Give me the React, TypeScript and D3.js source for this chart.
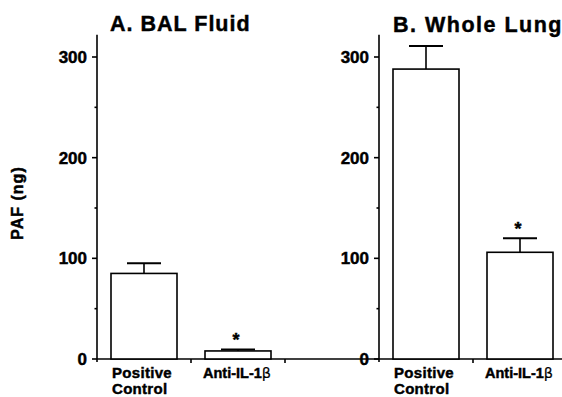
import React from "react";
import * as d3 from "d3";

const categories = ["A-Positive", "A-Anti", "gap", "B-Positive", "B-Anti"];
const barCats = ["A-Positive", "A-Anti", "B-Positive", "B-Anti"];
const means = [85, 8, 288, 106];
const errs = [10, 1.5, 23, 14];
const significant = [false, true, false, true];
const yTicksMajor = [0, 100, 200, 300];
const yTicksMinor = [50, 150, 250];
const panelTitles = ["A. BAL Fluid", "B. Whole Lung"];
const yLabel = "PAF (ng)";

const W = 562;
const H = 397;
const font = "'Liberation Sans', Arial, Helvetica, sans-serif";
const heavy = { stroke: "#000", strokeWidth: 0.45 };

export default function App() {
  const x = d3.scaleBand<string>().domain(categories).range([97, 567]).paddingInner(0).paddingOuter(0);
  const y = d3.scaleLinear().domain([0, 300]).range([359, 57]);
  const barPad = 14;
  const barW = x.bandwidth() - 2 * barPad;
  const axisTop = y(322);
  const axesX = [x("A-Positive")!, x("B-Positive")!];
  const boundaryTicks = [x("A-Anti")!, x("gap")!, x("B-Anti")!];

  return (
    <svg width={W} height={H} style={{ position: "absolute", left: 0, top: 0, background: "#fff" }}>
      {/* titles */}
      <text x={110} y={31} fontFamily={font} fontWeight="bold" fontSize={21.5} letterSpacing={1} fill="#000" {...heavy}>
        {panelTitles[0]}
      </text>
      <text x={393} y={32} fontFamily={font} fontWeight="bold" fontSize={21.5} letterSpacing={1.5} fill="#000" {...heavy}>
        {panelTitles[1]}
      </text>
      {/* y label */}
      <text
        transform={`translate(23,203) rotate(-90)`}
        textAnchor="middle"
        fontFamily={font}
        fontWeight="bold"
        fontSize={16}
        letterSpacing={1}
        fill="#000"
        {...heavy}
      >
        {yLabel}
      </text>
      {/* baseline */}
      <line x1={97} x2={W} y1={y(0)} y2={y(0)} stroke="#000" strokeWidth={1.6} />
      {boundaryTicks.map((t, i) => (
        <line key={"bt" + i} x1={t} x2={t} y1={y(0)} y2={y(0) + 4} stroke="#000" strokeWidth={1.6} />
      ))}
      {/* y axes */}
      {axesX.map((ax, i) => (
        <g key={"ax" + i}>
          <line x1={ax} x2={ax} y1={axisTop} y2={y(0) + 3} stroke="#000" strokeWidth={1.6} />
          {yTicksMajor.map((t) => (
            <g key={t}>
              <line x1={ax - 5} x2={ax} y1={y(t)} y2={y(t)} stroke="#000" strokeWidth={1.6} />
              <text
                x={ax - 10}
                y={y(t)}
                dy="0.36em"
                textAnchor="end"
                fontFamily={font}
                fontWeight="bold"
                fontSize={17}
                fill="#000"
                {...heavy}
              >
                {t}
              </text>
            </g>
          ))}
          {yTicksMinor.map((t) => (
            <line key={"m" + t} x1={ax - 2.5} x2={ax} y1={y(t)} y2={y(t)} stroke="#000" strokeWidth={1.6} />
          ))}
        </g>
      ))}
      {/* bars */}
      {barCats.map((c, i) => {
        const bx = x(c)! + barPad;
        const cx = bx + barW / 2;
        const top = y(means[i]);
        const eTop = y(means[i] + errs[i]);
        return (
          <g key={c}>
            <rect x={bx} y={top} width={barW} height={y(0) - top} fill="#fff" stroke="#000" strokeWidth={1.6} />
            <line x1={cx} x2={cx} y1={top} y2={eTop} stroke="#000" strokeWidth={1.6} />
            <line x1={cx - 17} x2={cx + 17} y1={eTop} y2={eTop} stroke="#000" strokeWidth={2} />
            {significant[i] && (
              <text
                x={cx - 2}
                y={eTop - 3}
                textAnchor="middle"
                fontFamily={font}
                fontWeight="bold"
                fontSize={18}
                fill="#000"
                {...heavy}
              >
                *
              </text>
            )}
          </g>
        );
      })}
      {/* x labels */}
      {barCats.map((c) => {
        const bx = x(c)! + barPad;
        const isPos = c.endsWith("Positive");
        return isPos ? (
          <text
            key={"xl" + c}
            x={bx + 1}
            y={378}
            fontFamily={font}
            fontWeight="bold"
            fontSize={15}
            letterSpacing={0.3}
            fill="#000"
            {...heavy}
          >
            <tspan x={bx + 1}>Positive</tspan>
            <tspan x={bx + 1} dy={16}>
              Control
            </tspan>
          </text>
        ) : (
          <text
            key={"xl" + c}
            x={bx - 2}
            y={378}
            fontFamily={font}
            fontWeight="bold"
            fontSize={14.5}
            fill="#000"
            {...heavy}
          >
            Anti-IL-1
            <tspan fontWeight="normal" fontFamily="'DejaVu Sans', sans-serif" strokeWidth={0.2}>
              β
            </tspan>
          </text>
        );
      })}
    </svg>
  );
}
